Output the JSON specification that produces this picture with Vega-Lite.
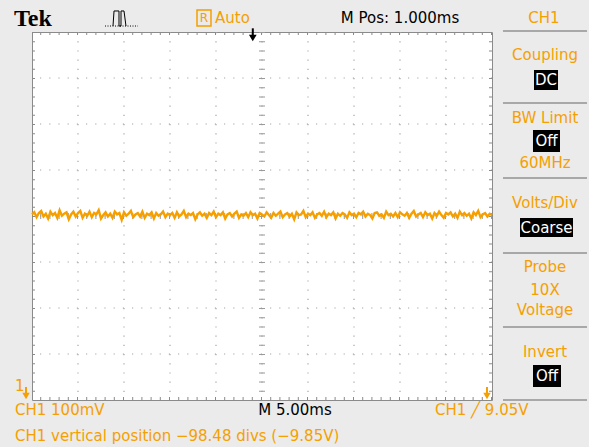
{
  "$schema": "https://vega.github.io/schema/vega-lite/v6.json",
  "width": 460,
  "height": 368,
  "autosize": {"type": "none"},
  "padding": {"left": 32, "top": 32, "right": 97, "bottom": 47},
  "background": "#ebebeb",
  "config": {
    "view": {"fill": "#ffffff", "stroke": "#8a8a8a", "strokeWidth": 1},
    "font": "DejaVu Sans"
  },
  "datasets": {
    "gridx": [{"g": 1}, {"g": 2}, {"g": 3}, {"g": 4}, {"g": 5}, {"g": 6}, {"g": 7}, {"g": 8}, {"g": 9}],
    "gridy": [{"g": -3}, {"g": -2}, {"g": -1}, {"g": 0}, {"g": 1}, {"g": 2}, {"g": 3}],
    "edgeX": [{"x": 0.0326}, {"x": 9.9674}],
    "edgeY": [{"y": 3.9674}, {"y": -3.9674}],
    "seps": [{"y": 4.022}, {"y": 2.457}, {"y": 0.826}, {"y": -0.804}, {"y": -2.413}, {"y": -4.0}],
    "boxes": [
      {"x1": 10.913, "x2": 11.435, "y1": 3.174, "y2": 2.739, "x": 11.174, "y": 2.957, "label": "DC"},
      {"x1": 10.891, "x2": 11.478, "y1": 1.87, "y2": 1.391, "x": 11.185, "y": 1.63, "label": "Off"},
      {"x1": 10.609, "x2": 11.761, "y1": -0.043, "y2": -0.457, "x": 11.185, "y": -0.25, "label": "Coarse"},
      {"x1": 10.891, "x2": 11.5, "y1": -3.239, "y2": -3.717, "x": 11.196, "y": -3.478, "label": "Off"}
    ],
    "menu": [
      {"x": 11.13, "y": 4.304, "label": "CH1"},
      {"x": 11.152, "y": 3.5, "label": "Coupling"},
      {"x": 11.152, "y": 2.13, "label": "BW Limit"},
      {"x": 11.152, "y": 1.152, "label": "60MHz"},
      {"x": 11.152, "y": 0.283, "label": "Volts/Div"},
      {"x": 11.152, "y": -1.109, "label": "Probe"},
      {"x": 11.152, "y": -1.609, "label": "10X"},
      {"x": 11.152, "y": -2.043, "label": "Voltage"},
      {"x": 11.152, "y": -2.957, "label": "Invert"}
    ],
    "orangeLeft": [
      {"x": 3.978, "y": 4.304, "label": "Auto"},
      {"x": -0.37, "y": -4.217, "label": "CH1  100mV"},
      {"x": 8.761, "y": -4.217, "label": "CH1 ╱ 9.05V"},
      {"x": -0.37, "y": -4.783, "label": "CH1 vertical position −98.48 divs (−9.85V)"},
      {"x": -0.37, "y": -3.7, "label": "1"}
    ],
    "blackCenter": [
      {"x": 8.0, "y": 4.304, "label": "M Pos: 1.000ms"},
      {"x": 5.717, "y": -4.217, "label": "M 5.00ms"}
    ],
    "pulse": [
      {"i": 0, "x": 1.761, "y": 4.13}, {"i": 1, "x": 1.783, "y": 4.457}, {"i": 2, "x": 1.891, "y": 4.457},
      {"i": 3, "x": 1.891, "y": 4.13}, {"i": 4, "x": 1.935, "y": 4.13}, {"i": 5, "x": 1.935, "y": 4.457},
      {"i": 6, "x": 2.0, "y": 4.457}, {"i": 7, "x": 2.043, "y": 4.13}
    ],
    "orangeMarks": [{"x": -0.13}, {"x": 9.891}]
  },
  "layer": [
    {
      "data": {"name": "gridx"},
      "mark": {"type": "rule", "color": "#a5a5a5", "strokeDash": [1.2, 8], "strokeWidth": 1.2},
      "encoding": {
        "x": {"field": "g", "type": "quantitative", "scale": {"domain": [0, 10], "nice": false, "zero": false}, "axis": null}
      }
    },
    {
      "data": {"name": "gridy"},
      "mark": {"type": "rule", "color": "#a5a5a5", "strokeDash": [1.2, 8], "strokeWidth": 1.2},
      "encoding": {
        "y": {"field": "g", "type": "quantitative", "scale": {"domain": [-4, 4], "nice": false, "zero": false}, "axis": null}
      }
    },
    {
      "data": {"name": "edgeX"},
      "mark": {"type": "rule", "color": "#8a8a8a", "strokeDash": [1, 8.2], "strokeWidth": 3},
      "encoding": {
        "x": {"field": "x", "type": "quantitative", "axis": null}
      }
    },
    {
      "data": {"name": "edgeY"},
      "mark": {"type": "rule", "color": "#8a8a8a", "strokeDash": [1, 8.2], "strokeWidth": 3},
      "encoding": {
        "y": {"field": "y", "type": "quantitative", "axis": null}
      }
    },
    {
      "data": {"values": [{"x": 5}]},
      "mark": {"type": "rule", "color": "#9a9a9a", "strokeDash": [1, 8.2], "strokeWidth": 6},
      "encoding": {
        "x": {"field": "x", "type": "quantitative", "axis": null}
      }
    },
    {
      "data": {"values": [{"y": 0}]},
      "mark": {"type": "rule", "color": "#9a9a9a", "strokeDash": [1, 8.2], "strokeWidth": 6},
      "encoding": {
        "y": {"field": "y", "type": "quantitative", "axis": null}
      }
    },
    {
      "data": {
        "values": "t,v\n0,0.035\n0.05,0.08\n0.1,-0.025\n0.15,0.065\n0.2,0.11\n0.25,-0.01\n0.3,0.05\n0.35,-0.055\n0.4,0.095\n0.45,0.02\n0.5,0.065\n0.55,-0.04\n0.6,0.125\n0.65,0.005\n0.7,0.05\n0.75,0.08\n0.8,-0.07\n0.85,0.035\n0.9,0.095\n0.95,-0.01\n1,0.065\n1.05,0.11\n1.1,-0.04\n1.15,0.05\n1.2,0.005\n1.25,0.095\n1.3,-0.025\n1.35,0.065\n1.4,0.035\n1.45,0.125\n1.5,-0.055\n1.55,0.02\n1.6,0.08\n1.65,-0.01\n1.7,0.05\n1.75,-0.04\n1.8,0.095\n1.85,0.035\n1.9,0.065\n1.95,-0.085\n2,0.08\n2.05,0.005\n2.1,0.05\n2.15,0.11\n2.2,-0.025\n2.25,0.035\n2.3,0.065\n2.35,-0.01\n2.4,0.095\n2.45,-0.04\n2.5,0.05\n2.55,0.02\n2.6,0.08\n2.65,-0.055\n2.7,0.065\n2.75,0.005\n2.8,0.035\n2.85,0.095\n2.9,-0.025\n2.95,0.05\n3,0.02\n3.05,0.065\n3.1,-0.04\n3.15,0.08\n3.2,-0.01\n3.25,0.035\n3.3,0.11\n3.35,-0.025\n3.4,0.05\n3.45,0.02\n3.5,0.065\n3.55,-0.07\n3.6,0.035\n3.65,0.08\n3.7,0.005\n3.75,0.05\n3.8,-0.04\n3.85,0.065\n3.9,0.02\n3.95,0.095\n4,-0.025\n4.05,0.05\n4.1,0.02\n4.15,0.08\n4.2,-0.055\n4.25,0.035\n4.3,0.065\n4.35,-0.01\n4.4,0.05\n4.45,0.095\n4.5,-0.04\n4.55,0.035\n4.6,0.005\n4.65,0.065\n4.7,-0.025\n4.75,0.08\n4.8,0.02\n4.85,0.05\n4.9,-0.055\n4.95,0.065\n5,0.035\n5.05,-0.01\n5.1,0.08\n5.15,0.02\n5.2,-0.04\n5.25,0.065\n5.3,0.005\n5.35,0.05\n5.4,0.095\n5.45,-0.025\n5.5,0.035\n5.55,0.065\n5.6,-0.01\n5.65,0.05\n5.7,-0.07\n5.75,0.08\n5.8,0.02\n5.85,0.035\n5.9,0.11\n5.95,-0.025\n6,0.05\n6.05,0.02\n6.1,0.08\n6.15,-0.04\n6.2,0.035\n6.25,0.065\n6.3,0.005\n6.35,0.095\n6.4,-0.025\n6.45,0.05\n6.5,0.02\n6.55,0.08\n6.6,-0.055\n6.65,0.05\n6.7,0.005\n6.75,0.065\n6.8,0.035\n6.85,-0.04\n6.9,0.08\n6.95,0.02\n7,0.05\n7.05,-0.025\n7.1,0.065\n7.15,0.035\n7.2,0.095\n7.25,-0.01\n7.3,0.05\n7.35,0.02\n7.4,-0.055\n7.45,0.065\n7.5,0.08\n7.55,0.005\n7.6,0.035\n7.65,-0.04\n7.7,0.095\n7.75,0.02\n7.8,0.05\n7.85,-0.01\n7.9,0.065\n7.95,-0.025\n8,0.08\n8.05,0.035\n8.1,0.005\n8.15,0.065\n8.2,-0.04\n8.25,0.05\n8.3,0.11\n8.35,-0.01\n8.4,0.035\n8.45,0.065\n8.5,-0.025\n8.55,0.08\n8.6,0.02\n8.65,0.05\n8.7,-0.055\n8.75,0.065\n8.8,0.005\n8.85,0.095\n8.9,0.02\n8.95,-0.04\n9,0.065\n9.05,0.035\n9.1,0.08\n9.15,-0.01\n9.2,0.05\n9.25,-0.04\n9.3,0.095\n9.35,0.02\n9.4,0.065\n9.45,0.005\n9.5,0.05\n9.55,-0.055\n9.6,0.08\n9.65,0.02\n9.7,0.11\n9.75,-0.025\n9.8,0.035\n9.85,0.065\n9.9,-0.01\n9.95,0.05\n10,0.02",
        "format": {"type": "csv"}
      },
      "mark": {"type": "line", "color": "#f5a000", "strokeWidth": 2.4},
      "encoding": {
        "x": {"field": "t", "type": "quantitative", "axis": null},
        "y": {"field": "v", "type": "quantitative", "axis": null}
      }
    },
    {
      "data": {"name": "seps"},
      "mark": {"type": "rule", "color": "#a8a8a8", "strokeWidth": 2},
      "encoding": {
        "x": {"datum": 10.239, "type": "quantitative", "axis": null},
        "x2": {"datum": 12.065},
        "y": {"field": "y", "type": "quantitative", "axis": null}
      }
    },
    {
      "data": {"name": "boxes"},
      "mark": {"type": "rect", "color": "#000000"},
      "encoding": {
        "x": {"field": "x1", "type": "quantitative", "axis": null},
        "x2": {"field": "x2"},
        "y": {"field": "y1", "type": "quantitative", "axis": null},
        "y2": {"field": "y2"}
      }
    },
    {
      "data": {"name": "boxes"},
      "mark": {"type": "text", "color": "#ffffff", "fontSize": 15, "align": "center", "baseline": "middle"},
      "encoding": {
        "x": {"field": "x", "type": "quantitative", "axis": null},
        "y": {"field": "y", "type": "quantitative", "axis": null},
        "text": {"field": "label"}
      }
    },
    {
      "data": {"name": "menu"},
      "mark": {"type": "text", "color": "#f5a000", "fontSize": 15, "align": "center", "baseline": "middle"},
      "encoding": {
        "x": {"field": "x", "type": "quantitative", "axis": null},
        "y": {"field": "y", "type": "quantitative", "axis": null},
        "text": {"field": "label"}
      }
    },
    {
      "data": {"name": "orangeLeft"},
      "mark": {"type": "text", "color": "#f5a000", "fontSize": 15, "align": "left", "baseline": "middle"},
      "encoding": {
        "x": {"field": "x", "type": "quantitative", "axis": null},
        "y": {"field": "y", "type": "quantitative", "axis": null},
        "text": {"field": "label"}
      }
    },
    {
      "data": {"name": "blackCenter"},
      "mark": {"type": "text", "color": "#000000", "fontSize": 15, "align": "center", "baseline": "middle"},
      "encoding": {
        "x": {"field": "x", "type": "quantitative", "axis": null},
        "y": {"field": "y", "type": "quantitative", "axis": null},
        "text": {"field": "label"}
      }
    },
    {
      "data": {"values": [{"label": "Tek"}]},
      "mark": {"type": "text", "color": "#000000", "font": "Liberation Serif", "fontWeight": "bold", "fontSize": 24, "align": "left", "baseline": "alphabetic"},
      "encoding": {
        "x": {"datum": -0.391, "type": "quantitative", "axis": null},
        "y": {"datum": 4.13, "type": "quantitative", "axis": null},
        "text": {"field": "label"}
      }
    },
    {
      "data": {"values": [{"label": "R"}]},
      "mark": {"type": "rect", "fillOpacity": 0, "stroke": "#f5a000", "strokeWidth": 1.5},
      "encoding": {
        "x": {"datum": 3.587, "type": "quantitative", "axis": null},
        "x2": {"datum": 3.891},
        "y": {"datum": 4.478, "type": "quantitative", "axis": null},
        "y2": {"datum": 4.13}
      }
    },
    {
      "data": {"values": [{"label": "R"}]},
      "mark": {"type": "text", "color": "#f5a000", "fontSize": 12, "align": "center", "baseline": "middle"},
      "encoding": {
        "x": {"datum": 3.739, "type": "quantitative", "axis": null},
        "y": {"datum": 4.3, "type": "quantitative", "axis": null},
        "text": {"field": "label"}
      }
    },
    {
      "data": {"values": [{"label": "base"}]},
      "mark": {"type": "rule", "color": "#000000", "strokeWidth": 1, "strokeDash": [1, 1.5]},
      "encoding": {
        "x": {"datum": 1.587, "type": "quantitative", "axis": null},
        "x2": {"datum": 2.304},
        "y": {"datum": 4.13, "type": "quantitative", "axis": null}
      }
    },
    {
      "data": {"name": "pulse"},
      "mark": {"type": "line", "color": "#000000", "strokeWidth": 1},
      "encoding": {
        "x": {"field": "x", "type": "quantitative", "axis": null},
        "y": {"field": "y", "type": "quantitative", "axis": null},
        "order": {"field": "i"}
      }
    },
    {
      "data": {"values": [{"label": "trigger position"}]},
      "mark": {"type": "rule", "color": "#000000", "strokeWidth": 2},
      "encoding": {
        "x": {"datum": 4.8, "type": "quantitative", "axis": null},
        "y": {"datum": 4.08, "type": "quantitative", "axis": null},
        "y2": {"datum": 3.913}
      }
    },
    {
      "data": {"values": [{"label": "trigger position"}]},
      "mark": {"type": "point", "shape": "triangle-down", "filled": true, "color": "#000000", "size": 60, "opacity": 1},
      "encoding": {
        "x": {"datum": 4.8, "type": "quantitative", "axis": null},
        "y": {"datum": 3.87, "type": "quantitative", "axis": null}
      }
    },
    {
      "data": {"name": "orangeMarks"},
      "mark": {"type": "rule", "color": "#f5a000", "strokeWidth": 2},
      "encoding": {
        "x": {"field": "x", "type": "quantitative", "axis": null},
        "y": {"datum": -3.717, "type": "quantitative", "axis": null},
        "y2": {"datum": -3.87}
      }
    },
    {
      "data": {"name": "orangeMarks"},
      "mark": {"type": "point", "shape": "triangle-down", "filled": true, "color": "#f5a000", "size": 55, "opacity": 1},
      "encoding": {
        "x": {"field": "x", "type": "quantitative", "axis": null},
        "y": {"datum": -3.913, "type": "quantitative", "axis": null}
      }
    }
  ]
}
